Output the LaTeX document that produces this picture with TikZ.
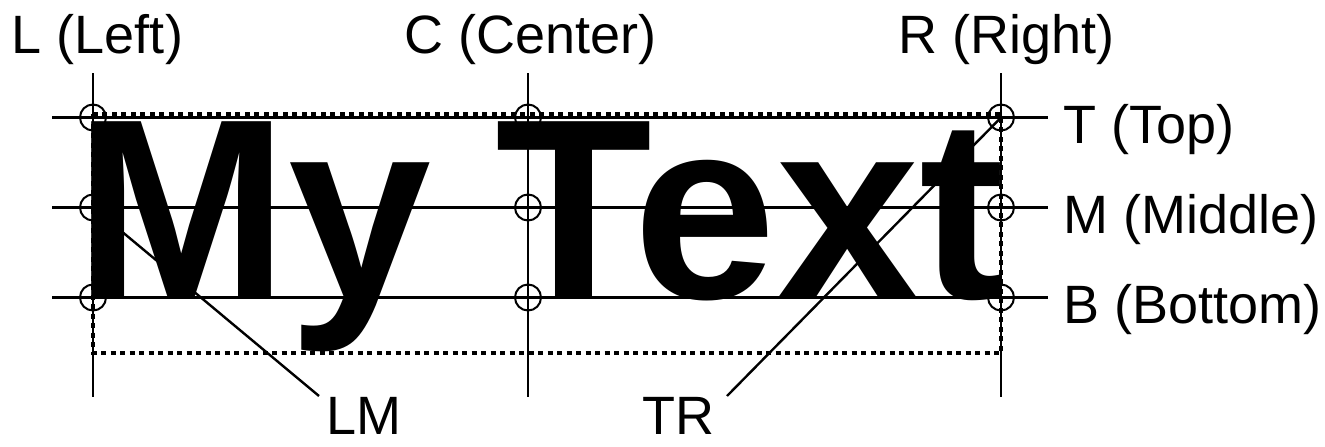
\documentclass[tikz,border=0pt]{standalone}
\usepackage{fontspec}
\setmainfont{Liberation Sans}
\begin{document}
\begin{tikzpicture}[x=0.5pt,y=-0.5pt,
  gridline/.style={line width=1.2pt},
  ring/.style={line width=1pt},
  lbl/.style={inner sep=0pt, font=\fontsize{27}{30}\selectfont},
  boxline/.style={line width=2.3pt, dash pattern=on 2.5pt off 2.25pt},
  leader/.style={line width=1.2pt}]
\useasboundingbox (0,0) rectangle (1325,446);
\fill[white] (0,0) rectangle (1325,446);
% main text
\node[anchor=base west, inner sep=0pt, font=\fontsize{128.5}{130}\selectfont\bfseries] (txt) at (74.5,298) {\spaceskip=31.7pt\relax My Text};
% grid points
\foreach \n/\x in {L/93,C/528,R/1001}{
  \foreach \m/\y in {T/117.5,M/207.5,B/297.5}{
    \coordinate (\n\m) at (\x,\y);
  }
  \coordinate (\n top) at (\x,73);
  \coordinate (\n bot) at (\x,397);
}
\foreach \m/\y in {T/117.5,M/207.5,B/297.5}{
  \coordinate (\m west) at (52,\y);
  \coordinate (\m east) at (1048,\y);
}
% dashed bounding box
\coordinate (boxNW) at (93,114);
\coordinate (boxSE) at (1001,353);
\draw[boxline] (boxNW) rectangle (boxSE);
% grid lines
\foreach \n in {L,C,R}{ \draw[gridline] (\n top) -- (\n bot); }
\foreach \m in {T,M,B}{ \draw[gridline] (\m west) -- (\m east); }
% rings
\foreach \n in {L,C,R}{
  \foreach \m in {T,M,B}{
    \draw[ring] (\n\m) circle[radius=13];
  }
}
% labels
\node[lbl, anchor=base] (lL) at (97.5,53) {L (Left)};
\node[lbl, anchor=base] (lC) at (531,53) {C (Center)};
\node[lbl, anchor=base] (lR) at (1006.5,53) {R (Right)};
\node[lbl, anchor=base west] (lT) at (1063,143) {T (Top)};
\node[lbl, anchor=base west] (lM) at (1063,233) {M (Middle)};
\node[lbl, anchor=base west] (lB) at (1063,323) {B (Bottom)};
\node[lbl, anchor=base west] (lLM) at (326,434) {LM};
\node[lbl, anchor=base west] (lTR) at (642,434) {TR};
% leaders
\coordinate (LMend) at (319,396);
\coordinate (TRend) at (727,396);
\draw[leader] (LM) -- (LMend);
\draw[leader] (RT) -- (TRend);
\end{tikzpicture}
\end{document}
